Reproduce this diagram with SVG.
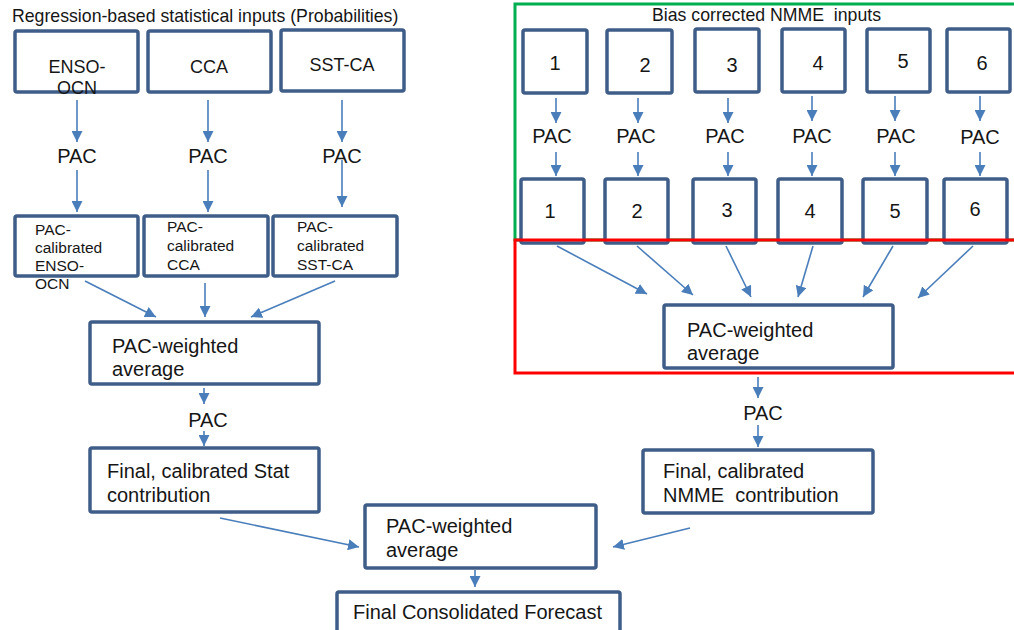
<svg xmlns="http://www.w3.org/2000/svg" width="1014" height="630" viewBox="0 0 1014 630">
<defs>
<marker id="ah" markerUnits="userSpaceOnUse" markerWidth="11" markerHeight="11" refX="11" refY="5.5" orient="auto">
<path d="M0,0 L11,5.5 L0,11 z" fill="#4A7EBB"/>
</marker>
<style>
.box{fill:#fff;stroke:#3F5D89;stroke-width:3.5}
.c{stroke:#4A7EBB;stroke-width:1.6;fill:none;marker-end:url(#ah)}
text{font-family:"Liberation Sans",Arial,sans-serif;fill:#161616;white-space:pre}
.t{font-size:17.7px}
.b{font-size:20px}
.m{font-size:18px}
.s{font-size:15.5px}
.mid{text-anchor:middle}
</style>
</defs>
<rect width="1014" height="630" fill="#fff"/>

<g id="titles">
<text class="t" x="12" y="22">Regression-based statistical inputs (Probabilities)</text>
</g>

<g id="nmme-region">
<rect x="515" y="4" width="512" height="236" fill="none" stroke="#00B050" stroke-width="3"/>
<text class="t" x="652" y="21" xml:space="preserve">Bias corrected NMME  inputs</text>
</g>

<g id="enso"><rect class="box" x="15" y="31" width="123" height="61" rx="2"/><text class="m mid" x="77" y="73">ENSO-</text><text class="m mid" x="77" y="94">OCN</text></g>
<g id="cca"><rect class="box" x="148" y="31" width="123" height="61" rx="2"/><text class="m mid" x="209" y="73">CCA</text></g>
<g id="sstca"><rect class="box" x="281" y="30" width="123" height="61" rx="2"/><text class="m mid" x="342" y="71">SST-CA</text></g>

<g id="cal-enso"><rect class="box" x="15" y="216" width="123" height="60" rx="2"/><text class="s" x="35" y="235">PAC-</text><text class="s" x="35" y="253">calibrated</text><text class="s" x="35" y="271">ENSO-</text><text class="s" x="35" y="289">OCN</text></g>
<g id="cal-cca"><rect class="box" x="144" y="216" width="124" height="60" rx="2"/><text class="s" x="167" y="232">PAC-</text><text class="s" x="167" y="251">calibrated</text><text class="s" x="167" y="270">CCA</text></g>
<g id="cal-sst"><rect class="box" x="273" y="216" width="124" height="60" rx="2"/><text class="s" x="297" y="232">PAC-</text><text class="s" x="297" y="251">calibrated</text><text class="s" x="297" y="270">SST-CA</text></g>

<g id="stat-avg"><rect class="box" x="90" y="322" width="229" height="62" rx="2"/><text class="b" x="112" y="353">PAC-weighted</text><text class="b" x="112" y="376">average</text></g>
<g id="stat-final"><rect class="box" x="90" y="448" width="229" height="64" rx="2"/><text class="b" x="107" y="478">Final, calibrated Stat</text><text class="b" x="107" y="502">contribution</text></g>

<g id="n1"><rect class="box" x="523" y="30" width="64" height="63" rx="2"/><text class="b mid" x="555" y="70">1</text></g>
<g id="n2"><rect class="box" x="607" y="30" width="65" height="63" rx="2"/><text class="b mid" x="645" y="72">2</text></g>
<g id="n3"><rect class="box" x="695" y="29" width="64" height="63" rx="2"/><text class="b mid" x="732" y="72">3</text></g>
<g id="n4"><rect class="box" x="782" y="29" width="63" height="63" rx="2"/><text class="b mid" x="818" y="70">4</text></g>
<g id="n5"><rect class="box" x="867" y="29" width="63" height="63" rx="2"/><text class="b mid" x="903" y="68">5</text></g>
<g id="n6"><rect class="box" x="947" y="29" width="63" height="63" rx="2"/><text class="b mid" x="982" y="70">6</text></g>

<g id="c1"><rect class="box" x="521" y="179" width="63" height="64" rx="2"/><text class="b mid" x="550" y="218">1</text></g>
<g id="c2"><rect class="box" x="605" y="179" width="63" height="64" rx="2"/><text class="b mid" x="637" y="218">2</text></g>
<g id="c3"><rect class="box" x="693" y="179" width="63" height="64" rx="2"/><text class="b mid" x="727" y="217">3</text></g>
<g id="c4"><rect class="box" x="778" y="179" width="64" height="64" rx="2"/><text class="b mid" x="810" y="218">4</text></g>
<g id="c5"><rect class="box" x="863" y="179" width="64" height="64" rx="2"/><text class="b mid" x="895" y="218">5</text></g>
<g id="c6"><rect class="box" x="944" y="179" width="63" height="64" rx="2"/><text class="b mid" x="975" y="216">6</text></g>

<g id="avg-region">
<rect x="515" y="240" width="512" height="133" fill="none" stroke="#FF0000" stroke-width="3"/>
</g>

<g id="nmme-avg"><rect class="box" x="664" y="305" width="229" height="63" rx="2"/><text class="b" x="687" y="337">PAC-weighted</text><text class="b" x="687" y="360">average</text></g>
<g id="nmme-final"><rect class="box" x="643" y="450" width="230" height="63" rx="2"/><text class="b" x="663" y="478">Final, calibrated</text><text class="b" x="663" y="502" xml:space="preserve">NMME  contribution</text></g>

<g id="all-avg"><rect class="box" x="365" y="505" width="231" height="63" rx="2"/><text class="b" x="386" y="533">PAC-weighted</text><text class="b" x="386" y="557">average</text></g>
<g id="final"><rect class="box" x="337" y="592" width="283" height="40" rx="2"/><text class="b" x="353" y="619">Final Consolidated Forecast</text></g>

<g id="labels">
<text class="b mid" x="77" y="163">PAC</text>
<text class="b mid" x="208" y="163">PAC</text>
<text class="b mid" x="342" y="163">PAC</text>
<text class="b mid" x="208" y="427">PAC</text>
<text class="b mid" x="763" y="420">PAC</text>
<text class="b mid" x="552" y="143">PAC</text>
<text class="b mid" x="636" y="143">PAC</text>
<text class="b mid" x="725" y="143">PAC</text>
<text class="b mid" x="812" y="143">PAC</text>
<text class="b mid" x="896" y="143">PAC</text>
<text class="b mid" x="980" y="144">PAC</text>
</g>

<g id="connectors">
<line class="c" x1="77" y1="100" x2="77" y2="142"/>
<line class="c" x1="77" y1="170" x2="77" y2="212"/>
<line class="c" x1="208" y1="100" x2="208" y2="142"/>
<line class="c" x1="208" y1="170" x2="208" y2="212"/>
<line class="c" x1="342" y1="100" x2="342" y2="142"/>
<line class="c" x1="342" y1="160" x2="342" y2="207"/>
<line class="c" x1="85" y1="281" x2="156" y2="317"/>
<line class="c" x1="205" y1="283" x2="205" y2="317"/>
<line class="c" x1="335" y1="281" x2="251" y2="317"/>
<line class="c" x1="204" y1="388" x2="204" y2="404"/>
<line class="c" x1="204" y1="431" x2="204" y2="446"/>

<line class="c" x1="556" y1="98" x2="556" y2="123"/>
<line class="c" x1="556" y1="152" x2="556" y2="176"/>
<line class="c" x1="638" y1="98" x2="638" y2="123"/>
<line class="c" x1="638" y1="152" x2="638" y2="176"/>
<line class="c" x1="728" y1="98" x2="728" y2="123"/>
<line class="c" x1="728" y1="152" x2="728" y2="176"/>
<line class="c" x1="812" y1="96" x2="812" y2="121"/>
<line class="c" x1="812" y1="152" x2="812" y2="176"/>
<line class="c" x1="895" y1="96" x2="895" y2="121"/>
<line class="c" x1="895" y1="152" x2="895" y2="176"/>
<line class="c" x1="980" y1="96" x2="980" y2="121"/>
<line class="c" x1="980" y1="152" x2="980" y2="176"/>

<line class="c" x1="557" y1="246" x2="647" y2="294"/>
<line class="c" x1="637" y1="246" x2="693" y2="295"/>
<line class="c" x1="726" y1="246" x2="751" y2="297"/>
<line class="c" x1="813" y1="246" x2="798" y2="297"/>
<line class="c" x1="893" y1="246" x2="863" y2="297"/>
<line class="c" x1="973" y1="246" x2="918" y2="298"/>

<line class="c" x1="758" y1="377" x2="758" y2="398"/>
<line class="c" x1="758" y1="425" x2="758" y2="447"/>

<line class="c" x1="220" y1="518" x2="359" y2="547"/>
<line class="c" x1="690" y1="528" x2="613" y2="547"/>
<line class="c" x1="475" y1="570" x2="475" y2="587"/>
</g>
</svg>
